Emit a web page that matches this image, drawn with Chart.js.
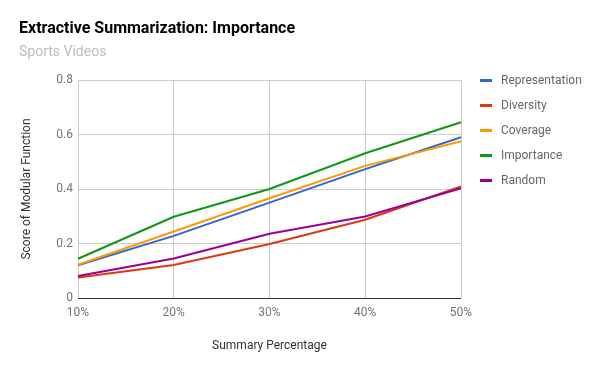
<!DOCTYPE html>
<html>
<head>
<meta charset="utf-8">
<script src="https://cdn.jsdelivr.net/npm/chart.js@4"></script>
<style>
  html, body { margin: 0; padding: 0; background: #fff; }
  #wrap { width: 600px; height: 371px; position: relative; }
</style>
</head>
<body>
<div id="wrap"><canvas id="chart" width="600" height="371"></canvas></div>
<script>
const categories = ['10%', '20%', '30%', '40%', '50%'];
const seriesNames = ['Representation', 'Diversity', 'Coverage', 'Importance', 'Random'];
const representation = [0.120, 0.228, 0.350, 0.473, 0.590];
const diversity = [0.075, 0.121, 0.198, 0.287, 0.409];
const coverage = [0.122, 0.244, 0.366, 0.485, 0.575];
const importance = [0.144, 0.298, 0.400, 0.531, 0.645];
const randomSel = [0.081, 0.145, 0.236, 0.299, 0.403];
const yTicks = [0, 0.2, 0.4, 0.6, 0.8];

const colors = ['#3366cc', '#dc3912', '#ff9900', '#109618', '#990099'];
const values = [representation, diversity, coverage, importance, randomSel];

// title, subtitle and legend drawn by hand, Google-chart style
const decorations = {
    id: 'decorations',
    afterDraw(chart) {
        const ctx = chart.ctx;
        ctx.save();
        ctx.textBaseline = 'alphabetic';
        ctx.textAlign = 'left';
        ctx.fillStyle = '#000';
        ctx.font = 'bold 16px Roboto';
        ctx.fillText('Extractive Summarization: Importance', 19, 33);
        ctx.fillStyle = '#bdbdbd';
        ctx.font = '14px Roboto';
        ctx.fillText('Sports Videos', 19, 56);

        ctx.font = '12px Roboto';
        ctx.textBaseline = 'middle';
        chart.data.datasets.forEach((ds, i) => {
            const y = 80.5 + i * 25;
            ctx.strokeStyle = ds.borderColor;
            ctx.lineWidth = 3;
            ctx.beginPath();
            ctx.moveTo(480, y);
            ctx.lineTo(492, y);
            ctx.stroke();
            ctx.fillStyle = '#666';
            ctx.fillText(ds.label, 501, y);
        });
        ctx.restore();
    }
};

new Chart(document.getElementById('chart'), {
    type: 'line',
    data: {
        labels: categories,
        datasets: seriesNames.map((name, i) => ({
            label: name,
            data: values[i],
            borderColor: colors[i],
            backgroundColor: colors[i],
            borderWidth: 2,
            pointRadius: 0,
            tension: 0,
            order: seriesNames.length - i
        }))
    },
    options: {
        responsive: false,
        animation: false,
        layout: { padding: { top: 80, right: 139, left: 0, bottom: 0 } },
        plugins: {
            legend: { display: false },
            tooltip: { enabled: false }
        },
        scales: {
            x: {
                offset: false,
                afterFit: s => { s.height = 73; },
                grid: { color: '#cccccc', drawTicks: false },
                border: { display: false },
                ticks: { color: '#757575', font: { family: 'Roboto', size: 12 }, padding: 8, maxRotation: 0 },
                title: {
                    display: true,
                    text: 'Summary Percentage',
                    color: '#333',
                    font: { family: 'Roboto', size: 12 },
                    padding: { top: 0, bottom: 18 }
                }
            },
            y: {
                min: 0,
                max: 0.8,
                afterFit: s => { s.width = 78; },
                afterBuildTicks: s => { s.ticks = yTicks.map(v => ({ value: v })); },
                grid: {
                    color: c => (c.tick && c.tick.value === 0 ? '#333333' : '#cccccc'),
                    drawTicks: false
                },
                border: { display: false },
                ticks: { color: '#757575', font: { family: 'Roboto', size: 12 }, padding: 5 },
                title: {
                    display: true,
                    text: 'Score of Modular Function',
                    color: '#333',
                    font: { family: 'Roboto', size: 12 },
                    padding: { top: 20, bottom: 0 }
                }
            }
        }
    },
    plugins: [decorations]
});
</script>
</body>
</html>
